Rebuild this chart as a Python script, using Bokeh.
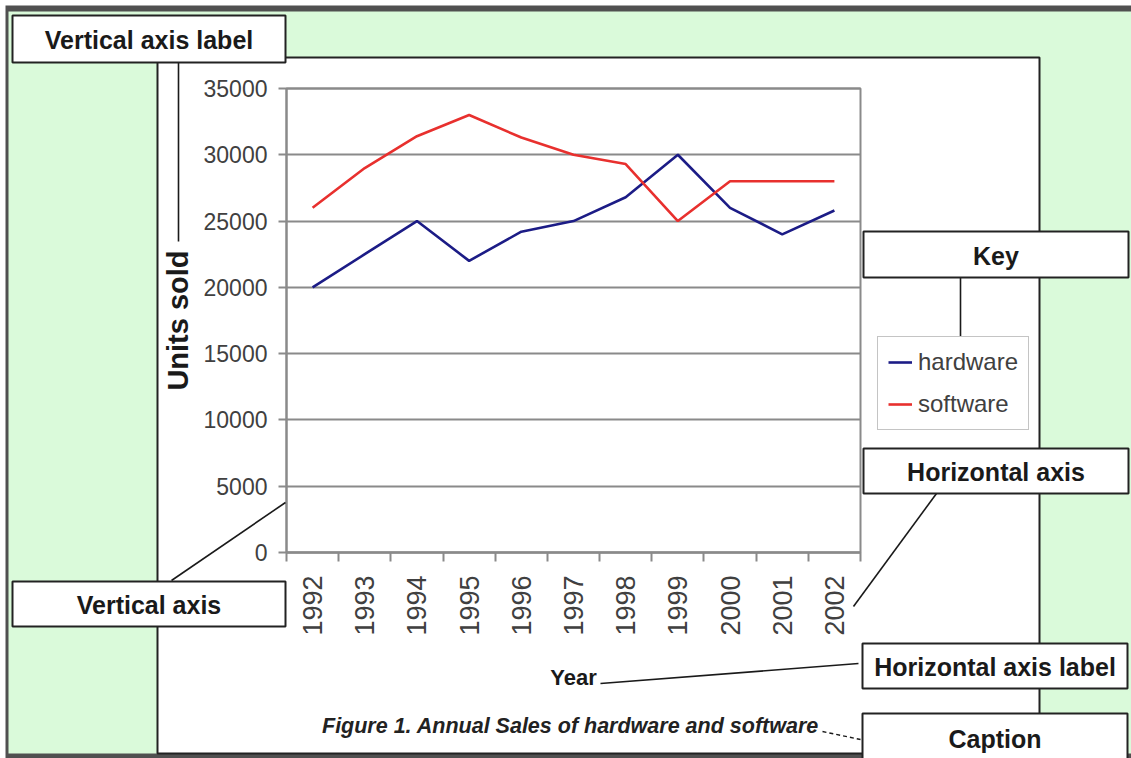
import math
from bokeh.plotting import figure
from bokeh.models import (Range1d, FixedTicker, BoxAnnotation, Label, Arrow,
                          LinearAxis, NumeralTickFormatter)
from bokeh.embed import file_html
from bokeh.resources import INLINE

# ---------------- data ----------------
years = [1992, 1993, 1994, 1995, 1996, 1997, 1998, 1999, 2000, 2001, 2002]
hardware = [20000, 22500, 25000, 22000, 24200, 25000, 26800, 30000, 26000, 24000, 25800]
software = [26000, 29000, 31400, 33000, 31300, 30000, 29300, 25000, 28000, 28000, 28000]
y_ticks = [0, 5000, 10000, 15000, 20000, 25000, 30000, 35000]
series_names = ["hardware", "software"]
y_label = "Units sold"
x_label = "Year"
caption = "Figure 1. Annual Sales of hardware and software"
callout_texts = ["Vertical axis label", "Vertical axis", "Key",
                 "Horizontal axis", "Horizontal axis label", "Caption"]

# ---------------- layout (reference pixel space) ----------------
W, H = 1131, 758
REF_W, REF_H = 1131, 758
SX, SY = W / REF_W, H / REF_H
FL, FR, FT, FB = 286, 860, 88, 552          # chart plot area in reference pixels

SANS = "Liberation Sans"
GRID = "#8a8a8a"
INK = "#1a1a1a"
TICK_TXT = "#404040"

# data extents of the chart area
x_lo, x_hi = years[0] - 0.5, years[-1] + 0.5
y_lo, y_hi = y_ticks[0], y_ticks[-1]


def lin_range(a_ref, b_ref, a_val, b_val, lo_ref, hi_ref):
    k = (b_val - a_val) / (b_ref - a_ref)
    return Range1d(a_val + (lo_ref - a_ref) * k, a_val + (hi_ref - a_ref) * k)


p = figure(width=W, height=H, x_range=Range1d(0, REF_W), y_range=Range1d(REF_H, 0),
           output_backend="svg", toolbar_location=None,
           x_axis_location=None, y_axis_location=None,
           min_border=0, min_border_left=0, min_border_right=0,
           min_border_top=0, min_border_bottom=0)
p.extra_x_ranges = {"year": lin_range(FL, FR, x_lo, x_hi, 0, REF_W)}
p.extra_y_ranges = {"units": lin_range(FB, FT, y_lo, y_hi, REF_H, 0)}
p.border_fill_color = "white"
p.background_fill_color = "white"
p.outline_line_color = None
p.grid.visible = False


def box(x0, y0, x1, y1, fill, line=None, lw=2, level="annotation", xr="default", yr="default"):
    p.add_layout(BoxAnnotation(left=x0, right=x1, top=y0, bottom=y1,
                               x_range_name=xr, y_range_name=yr,
                               fill_color=fill, fill_alpha=1 if fill else 0,
                               line_color=line, line_alpha=1, line_width=lw,
                               level=level))


def seg(x0, y0, x1, y1, lw=1.6, dash="solid"):
    p.add_layout(Arrow(end=None, x_start=x0, y_start=y0, x_end=x1, y_end=y1,
                       line_color=INK, line_width=lw, line_dash=dash))


def text(x, y, s, size, style="bold", color=INK):
    p.add_layout(Label(x=x, y=y, text=s, text_align="center", text_baseline="middle",
                       text_font=SANS, text_font_style=style,
                       text_font_size=size, text_color=color))


# background: dark rim, green page, white panel
box(5, 5, 1131, 758, "#505050", None, 0, level="image")
box(8, 11, 1131, 753, "#dafada", None, 0, level="image")
box(157, 57, 1039, 753, "white", "#222222", 2, level="image")

# chart area border
box(x_lo, y_hi, x_hi, y_lo, None, GRID, 2, level="underlay", xr="year", yr="units")

# y axis (its long inward ticks form the horizontal grid lines)
ya = LinearAxis(x_range_name="year", y_range_name="units", fixed_location=x_lo,
                bounds=(y_lo, y_hi), ticker=FixedTicker(ticks=y_ticks),
                formatter=NumeralTickFormatter(format="0"), level="underlay")
ya.axis_line_color = GRID
ya.axis_line_width = 2
ya.major_tick_line_color = GRID
ya.major_tick_line_width = 2
ya.major_tick_in = round((FR - FL) * SX)
ya.major_tick_out = 8
ya.minor_tick_line_color = None
ya.major_label_standoff = 11
ya.major_label_text_font = SANS
ya.major_label_text_font_size = "23px"
ya.major_label_text_color = TICK_TXT
ya.axis_label = y_label
ya.axis_label_text_font = SANS
ya.axis_label_text_font_style = "bold"
ya.axis_label_text_font_size = "29px"
ya.axis_label_text_color = INK
ya.axis_label_standoff = 7
p.add_layout(ya, "left")

# x axis (ticks between categories)
xa = LinearAxis(x_range_name="year", y_range_name="units", fixed_location=y_lo,
                bounds=(x_lo, x_hi),
                ticker=FixedTicker(ticks=years, minor_ticks=[y - 0.5 for y in years] + [x_hi]),
                level="underlay")
xa.axis_line_color = GRID
xa.axis_line_width = 2
xa.major_tick_line_color = None
xa.major_tick_in = 0
xa.major_tick_out = 0
xa.minor_tick_line_color = GRID
xa.minor_tick_line_width = 2
xa.minor_tick_in = 0
xa.minor_tick_out = 9
xa.major_label_orientation = math.pi / 2
xa.major_label_standoff = 14
xa.major_label_text_font = SANS
xa.major_label_text_font_size = "27px"
xa.major_label_text_color = TICK_TXT
xa.axis_label = x_label
xa.axis_label_text_font = SANS
xa.axis_label_text_font_style = "bold"
xa.axis_label_text_font_size = "22px"
xa.axis_label_text_color = INK
xa.axis_label_standoff = 26
p.add_layout(xa, "below")

# series
p.line(years, hardware, x_range_name="year", y_range_name="units",
       line_color="#1c1c86", line_width=2.6, legend_label=series_names[0])
p.line(years, software, x_range_name="year", y_range_name="units",
       line_color="#e8302e", line_width=2.6, legend_label=series_names[1])

lg = p.legend[0]
lg.location = (877 * SX, (REF_H - 430) * SY)
lg.border_line_color = GRID
lg.border_line_width = 1.5
lg.background_fill_color = "white"
lg.background_fill_alpha = 1
lg.label_text_font = SANS
lg.label_text_font_size = "24px"
lg.label_text_color = TICK_TXT
lg.glyph_width = 24
lg.glyph_height = 30
lg.label_height = 30
lg.label_standoff = 6
lg.spacing = 12
lg.padding = 10
lg.margin = 0

# connectors
seg(178, 62, 178, 241)
seg(171, 580, 285, 502)
seg(960, 277, 960, 338)
seg(936, 493, 853, 606)
seg(858, 663, 600, 683)
seg(822, 731, 860, 739, lw=1.4, dash="4 3")

# caption
text(570, 725, caption, "21.5px", style="bold italic", color="#222222")

# callout boxes
callout_boxes = [(12, 15, 285, 62), (12, 581, 285, 626), (863, 231, 1128, 277),
                 (863, 448, 1128, 493), (862, 643, 1127, 688), (862, 713, 1127, 762)]
for s, (x0, y0, x1, y1) in zip(callout_texts, callout_boxes):
    box(x0, y0, x1, y1, "white", "#222222", 2)
    text((x0 + x1) / 2, (y0 + y1) / 2 + 1, s, "25px")

open("out.html", "w").write(file_html(p, INLINE))
